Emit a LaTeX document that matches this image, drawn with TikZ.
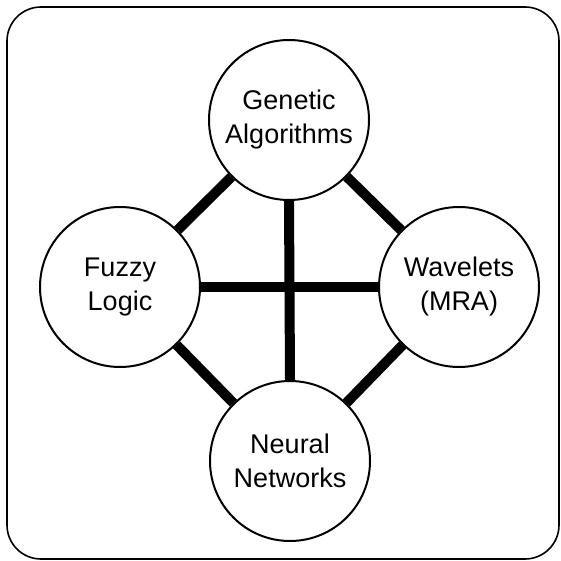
\documentclass[tikz,border=0pt]{standalone}
\usepackage{fontspec}
\setmainfont{Liberation Sans}
\begin{document}
\begin{tikzpicture}[x=1pt,y=-1pt,
  topic/.style={circle,draw,line width=2pt,minimum size=160pt,inner sep=0pt,
    align=center,font=\fontsize{27}{34}\selectfont},
  link/.style={line width=10pt}]
\useasboundingbox (0,0) rectangle (561,561);
% outer frame
\draw[line width=1.6pt,rounded corners=34pt] (7,7) rectangle (559,559);
% the four topics
\node[topic] (ga) at (289,120) {Genetic\\Algorithms};
\node[topic] (fl) at (120,287) {Fuzzy\\Logic};
\node[topic] (wv) at (459,287) {Wavelets\\(MRA)};
\node[topic] (nn) at (290,461) {Neural\\Networks};
% links between every pair
\draw[link] (ga) -- (fl);
\draw[link] (ga) -- (wv);
\draw[link] (fl) -- (nn);
\draw[link] (wv) -- (nn);
\draw[link] (fl) -- (wv);
\draw[link] (ga.south) -- (nn.north);
\end{tikzpicture}
\end{document}
